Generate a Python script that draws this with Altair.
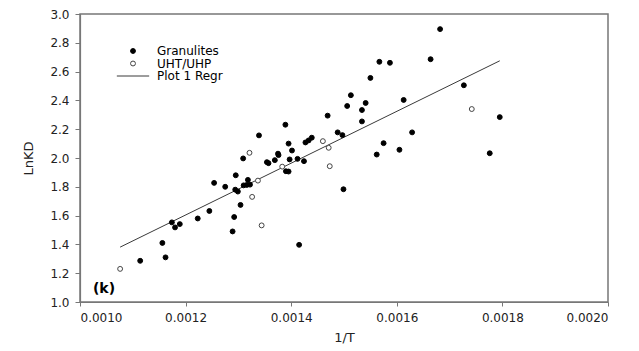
import altair as alt
import pandas as pd

# Granulite samples: 1/T and ln KD
gran_x = [0.001114, 0.001156, 0.001162, 0.001174, 0.001180, 0.001189, 0.001223,
          0.001245, 0.001254, 0.001275, 0.001289, 0.001292, 0.001295, 0.001294,
          0.001299, 0.001304, 0.001309, 0.001318, 0.001310, 0.001316, 0.001322,
          0.001339, 0.001354, 0.001357, 0.001369, 0.001375, 0.001376, 0.001389,
          0.001395, 0.001397, 0.0014015, 0.001390, 0.001395, 0.001412, 0.001415,
          0.0014242, 0.001427, 0.001433, 0.001439, 0.001469, 0.001488, 0.001497,
          0.001499, 0.001506, 0.001513, 0.001534, 0.001534, 0.001541, 0.001550,
          0.001562, 0.001567, 0.001575, 0.001587, 0.001605, 0.001613, 0.001629,
          0.001664, 0.001682, 0.001727, 0.001776, 0.001795]
gran_y = [1.286, 1.410, 1.310, 1.553, 1.518, 1.541, 1.580,
          1.632, 1.827, 1.800, 1.490, 1.590, 1.880, 1.780,
          1.767, 1.674, 1.997, 1.848, 1.810, 1.813, 1.815,
          2.157, 1.971, 1.964, 1.985, 2.030, 2.020, 2.231,
          2.100, 1.990, 2.052, 1.908, 1.906, 1.994, 1.397,
          1.978, 2.108, 2.122, 2.141, 2.294, 2.178, 2.159,
          1.783, 2.361, 2.436, 2.333, 2.254, 2.382, 2.556,
          2.024, 2.668, 2.103, 2.661, 2.057, 2.403, 2.178,
          2.686, 2.895, 2.505, 2.033, 2.284]

# UHT/UHP samples
uht_x = [0.001076, 0.001321, 0.001326, 0.001337, 0.001344,
         0.001383, 0.001460, 0.001471, 0.001473, 0.001742]
uht_y = [1.230, 2.036, 1.730, 1.843, 1.532,
         1.940, 2.117, 2.071, 1.943, 2.340]

# Fitted regression line end points
regr_x = [0.001076, 0.001795]
regr_y = [1.381, 2.675]

series_names = ["Granulites", "UHT/UHP", "Plot 1 Regr"]
x_ticks = [0.0010, 0.0012, 0.0014, 0.0016, 0.0018, 0.0020]
y_ticks = [1.0, 1.2, 1.4, 1.6, 1.8, 2.0, 2.2, 2.4, 2.6, 2.8, 3.0]
panel_label = ["(k)"]

points = pd.DataFrame({
    "inv_T": gran_x + uht_x,
    "lnKD": gran_y + uht_y,
    "series": [series_names[0]] * len(gran_x) + [series_names[1]] * len(uht_x),
})
regr = pd.DataFrame({"inv_T": regr_x, "lnKD": regr_y})
label_df = pd.DataFrame({"label": panel_label})

FONT = "DejaVu Sans"
AXIS_GREY = "#777777"

x_enc = alt.X(
    "inv_T:Q",
    scale=alt.Scale(domain=[0.001, 0.002], nice=False, zero=False),
    axis=alt.Axis(title="1/T", values=x_ticks, tickCount=6, format=".4f", grid=False,
                  labelOverlap=False, tickSize=4, labelPadding=6, titlePadding=8),
)
y_enc = alt.Y(
    "lnKD:Q",
    scale=alt.Scale(domain=[1.0, 3.0], nice=False, zero=False),
    axis=alt.Axis(title="LnKD", values=y_ticks, tickCount=11, format=".1f", grid=False,
                  labelOverlap=False, tickSize=5, labelPadding=6, titlePadding=14),
)

legend = alt.Legend(
    title=None, orient="none", legendX=47, legendY=31, padding=0,
    labelFont=FONT, labelFontSize=12, labelColor="black",
    labelOffset=18, rowPadding=0.5, symbolStrokeWidth=1, symbolSize=24,
)

line = alt.Chart(regr).mark_line(color="#3a3a3a", strokeWidth=1).encode(
    x=x_enc, y=y_enc
)

pts = alt.Chart(points).mark_point(filled=True, opacity=1, size=24, strokeWidth=1).encode(
    x=x_enc,
    y=y_enc,
    shape=alt.Shape("series:N", scale=alt.Scale(
        domain=series_names, range=["circle", "circle", "M-6.6,0L6.6,0"]), legend=legend),
    fill=alt.Fill("series:N", scale=alt.Scale(
        domain=series_names, range=["black", "white", "transparent"]), legend=legend),
    stroke=alt.Stroke("series:N", scale=alt.Scale(
        domain=series_names, range=["black", "#444444", "#3a3a3a"]), legend=legend),
)

tag = alt.Chart(label_df).mark_text(
    font=FONT, fontSize=14, fontWeight="bold", align="center", baseline="middle", color="black"
).encode(text="label:N", x=alt.value(24), y=alt.value(275))

chart = (
    alt.layer(line, pts, tag)
    .properties(
        width=528, height=288,
        padding={"left": 80, "top": 14, "right": 31, "bottom": 49},
        autosize=alt.AutoSizeParams(type="none"),
        background="white",
    )
    .configure_view(stroke=AXIS_GREY, strokeWidth=1.5)
    .configure_axis(
        domainColor=AXIS_GREY, tickColor=AXIS_GREY, domainWidth=1.2,
        labelOverlap=False,
        labelFont=FONT, labelFontSize=12, labelColor="#222222",
        titleFont=FONT, titleFontSize=13, titleFontWeight="normal", titleColor="#222222",
    )
)

chart.save("out.html", embed_options={"renderer": "svg", "actions": False})
